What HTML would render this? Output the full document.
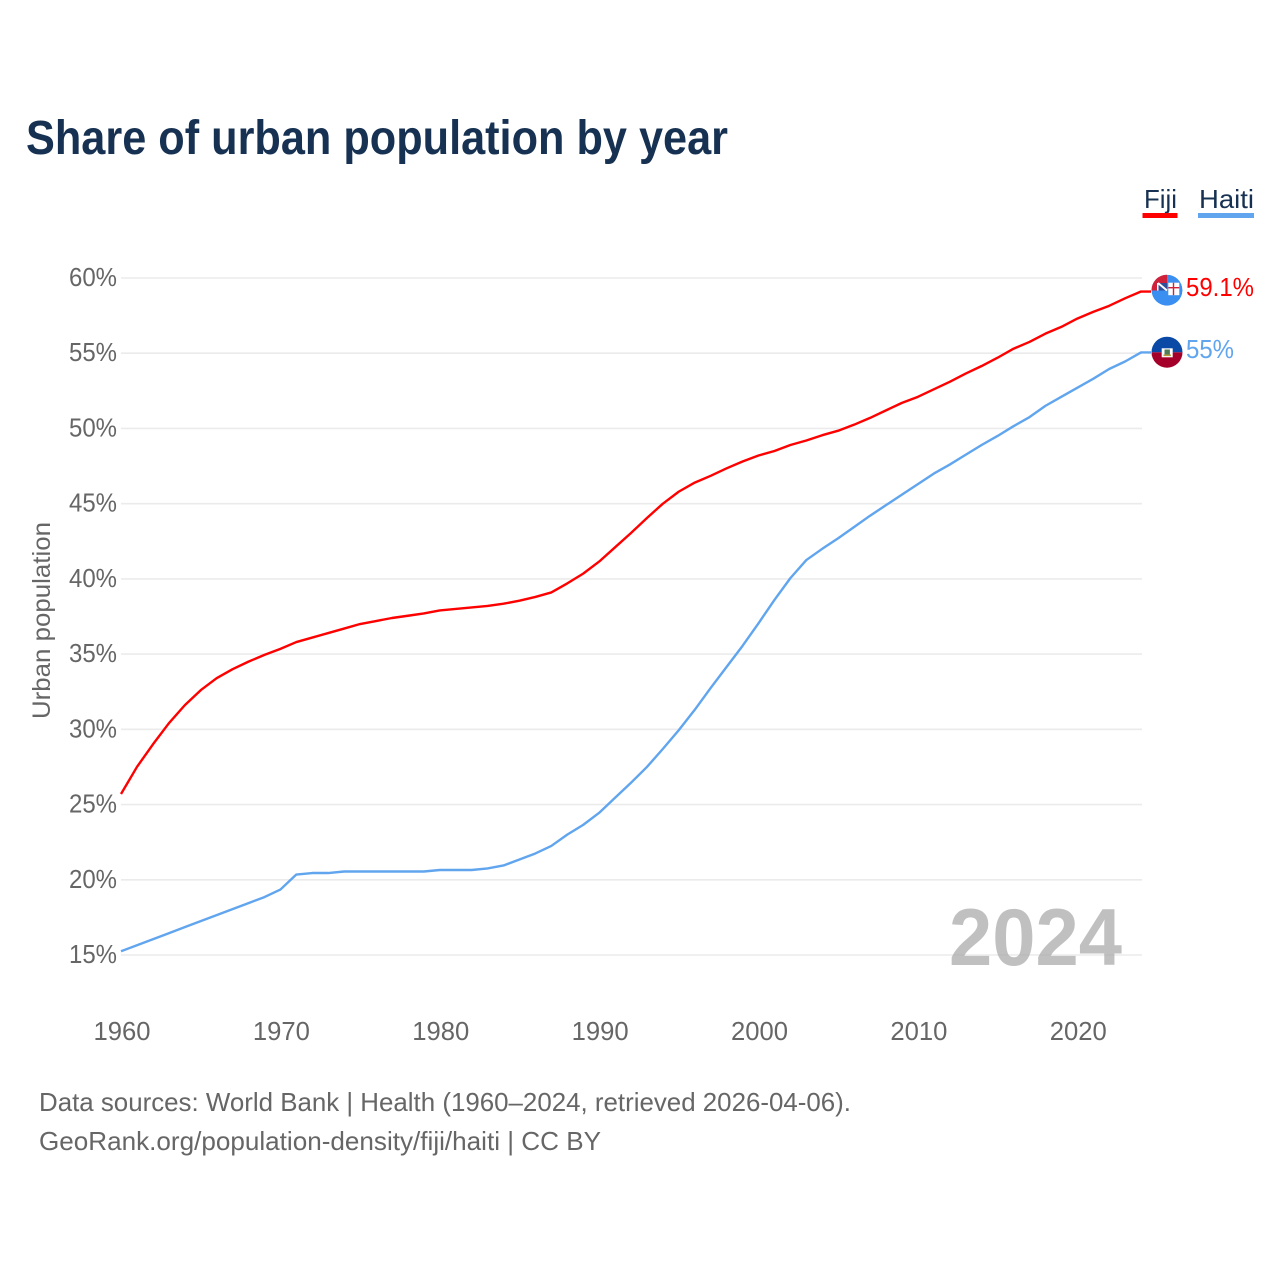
<!DOCTYPE html>
<html lang="en">
<head>
<meta charset="utf-8">
<title>Share of urban population by year</title>
<style>
html,body{margin:0;padding:0;background:#fff;}
svg{display:block;}
text{font-family:"Liberation Sans",sans-serif;}
</style>
</head>
<body>
<svg id="chart" xmlns="http://www.w3.org/2000/svg" width="1280" height="1280" viewBox="0 0 1280 1280">
  <rect x="0" y="0" width="1280" height="1280" fill="#ffffff"/>
  <text x="26" y="154" font-size="48" font-weight="700" fill="#163152" textLength="702" lengthAdjust="spacingAndGlyphs">Share of urban population by year</text>

  <g id="grid"></g>
  <g id="yticks"></g>
  <g id="xticks"></g>

  <text transform="translate(50,719) rotate(-90)" font-size="25" fill="#666666" textLength="197" lengthAdjust="spacingAndGlyphs">Urban population</text>

  <text x="949" y="965" font-size="81" font-weight="700" fill="#a8a8a8" fill-opacity="0.72" textLength="173" lengthAdjust="spacingAndGlyphs">2024</text>

  <path id="line-fiji" fill="none" stroke="#ff0000" stroke-width="2.4" stroke-linejoin="round"/>
  <path id="line-haiti" fill="none" stroke="#60a5ee" stroke-width="2.4" stroke-linejoin="round"/>

  <defs>
    <clipPath id="clip-fiji"><circle cx="1167" cy="290.2" r="15.5"/></clipPath>
    <clipPath id="clip-haiti"><circle cx="1167" cy="352.2" r="15.5"/></clipPath>
  </defs>

  <g id="flag-fiji" clip-path="url(#clip-fiji)">
    <circle cx="1167" cy="290.2" r="15.5" fill="#3a8ff0"/>
    <rect x="1151" y="274" width="16" height="16.5" fill="#d0213a"/>
    <rect x="1158" y="283" width="9" height="7.5" fill="#2f4f9a"/>
    <path d="M1158 283 L1167 290.5" stroke="#ffffff" stroke-width="2"/>
    <rect x="1157" y="283" width="1.5" height="7.5" fill="#ffffff"/>
    <rect x="1168.3" y="282.7" width="11" height="12.5" fill="#ffffff"/>
    <rect x="1172.8" y="282.7" width="1.4" height="12.5" fill="#d0213a"/>
    <rect x="1168.3" y="287" width="11" height="1.4" fill="#d0213a"/>
  </g>

  <g id="flag-haiti" clip-path="url(#clip-haiti)">
    <rect x="1151" y="336" width="32" height="16.3" fill="#0a4aa6"/>
    <rect x="1151" y="352.3" width="32" height="16" fill="#a5002a"/>
    <rect x="1161.7" y="348.3" width="11" height="9" fill="#ffffff"/>
    <rect x="1164.5" y="349.5" width="5.4" height="5" fill="#4f7d58"/>
    <rect x="1163.5" y="354.5" width="7.4" height="1.6" fill="#b59a3a"/>
  </g>

  <text id="label-fiji" x="1186" y="296" font-size="26" fill="#ff0000" textLength="68" lengthAdjust="spacingAndGlyphs"></text>
  <text id="label-haiti" x="1186" y="358" font-size="26" fill="#60a5ee" textLength="48" lengthAdjust="spacingAndGlyphs"></text>

  <text x="1144" y="208" font-size="26" fill="#163152" textLength="33" lengthAdjust="spacingAndGlyphs">Fiji</text>
  <rect x="1142.5" y="213" width="35" height="5" fill="#ff0000"/>
  <text x="1199" y="208" font-size="26" fill="#163152" textLength="55" lengthAdjust="spacingAndGlyphs">Haiti</text>
  <rect x="1198" y="213" width="56" height="5" fill="#60a5ee"/>

  <text x="39" y="1111" font-size="26" fill="#666666" textLength="812" lengthAdjust="spacingAndGlyphs">Data sources: World Bank | Health (1960–2024, retrieved 2026-04-06).</text>
  <a><text x="39" y="1150" font-size="26" fill="#666666" textLength="562" lengthAdjust="spacingAndGlyphs">GeoRank.org/population-density/fiji/haiti | CC BY</text></a>
</svg>
<script>
const years = [1960,1961,1962,1963,1964,1965,1966,1967,1968,1969,1970,1971,1972,1973,1974,1975,1976,1977,1978,1979,1980,1981,1982,1983,1984,1985,1986,1987,1988,1989,1990,1991,1992,1993,1994,1995,1996,1997,1998,1999,2000,2001,2002,2003,2004,2005,2006,2007,2008,2009,2010,2011,2012,2013,2014,2015,2016,2017,2018,2019,2020,2021,2022,2023,2024];
const fijiValues = [25.7,27.5,29.0,30.4,31.6,32.6,33.4,34.0,34.5,34.95,35.35,35.8,36.1,36.4,36.7,37.0,37.2,37.4,37.55,37.7,37.9,38.0,38.1,38.2,38.35,38.55,38.8,39.1,39.7,40.35,41.15,42.1,43.05,44.05,45.0,45.8,46.4,46.85,47.35,47.8,48.2,48.5,48.9,49.2,49.55,49.85,50.25,50.7,51.2,51.7,52.1,52.6,53.1,53.65,54.15,54.7,55.3,55.75,56.3,56.75,57.3,57.75,58.15,58.65,59.1];
const haitiValues = [15.25,15.65,16.05,16.45,16.85,17.25,17.65,18.05,18.45,18.85,19.35,20.35,20.45,20.45,20.55,20.55,20.55,20.55,20.55,20.55,20.65,20.65,20.65,20.75,20.95,21.35,21.75,22.25,23.0,23.65,24.45,25.45,26.45,27.5,28.7,29.95,31.3,32.75,34.15,35.55,37.05,38.6,40.05,41.25,42.0,42.7,43.45,44.2,44.9,45.6,46.3,47.0,47.6,48.25,48.9,49.5,50.15,50.75,51.5,52.1,52.7,53.3,53.95,54.45,55.05];
const yTickValues = [15,20,25,30,35,40,45,50,55,60];
const xTickValues = [1960,1970,1980,1990,2000,2010,2020];
const fijiLabel = "59.1%";
const haitiLabel = "55%";

const SVG_NS = "http://www.w3.org/2000/svg";
function xScale(year){ return 121 + (year - 1960) * (1141 - 121) / 64; }
function yScale(value){ return 955 - (value - 15) * (955 - 278) / 45; }

const gridGroup = document.getElementById("grid");
const yTickGroup = document.getElementById("yticks");
const xTickGroup = document.getElementById("xticks");

yTickValues.forEach(function(v){
  const line = document.createElementNS(SVG_NS, "line");
  
  
  line.setAttribute("x1", 121);
  line.setAttribute("x2", 1142);
  line.setAttribute("y1", yScale(v));
  line.setAttribute("y2", yScale(v));
  line.setAttribute("stroke", "#ebebeb");
  line.setAttribute("stroke-width", "1.6");
  gridGroup.appendChild(line);

  const label = document.createElementNS(SVG_NS, "text");
  
  
  label.setAttribute("x", 117);
  label.setAttribute("y", yScale(v) + 8);
  label.setAttribute("text-anchor", "end");
  label.setAttribute("font-size", "26");
  label.setAttribute("fill", "#666666");
  label.setAttribute("textLength", "48");
  label.setAttribute("lengthAdjust", "spacingAndGlyphs");
  label.textContent = v + "%";
  yTickGroup.appendChild(label);
});

xTickValues.forEach(function(y){
  const label = document.createElementNS(SVG_NS, "text");
  
  
  label.setAttribute("x", xScale(y) + 1);
  label.setAttribute("y", 1040);
  label.setAttribute("text-anchor", "middle");
  label.setAttribute("font-size", "26");
  label.setAttribute("fill", "#666666");
  label.setAttribute("textLength", "57");
  label.setAttribute("lengthAdjust", "spacingAndGlyphs");
  label.textContent = y;
  xTickGroup.appendChild(label);
});

function linePath(values){
  let d = values.map(function(v, i){
    return (i ? "L" : "M") + xScale(years[i]).toFixed(2) + " " + yScale(v).toFixed(2);
  }).join(" ");
  d += " h10";
  return d;
}
document.getElementById("line-fiji").setAttribute("d", linePath(fijiValues));
document.getElementById("line-haiti").setAttribute("d", linePath(haitiValues));
document.getElementById("label-fiji").textContent = fijiLabel;
document.getElementById("label-haiti").textContent = haitiLabel;
</script>
</body>
</html>
